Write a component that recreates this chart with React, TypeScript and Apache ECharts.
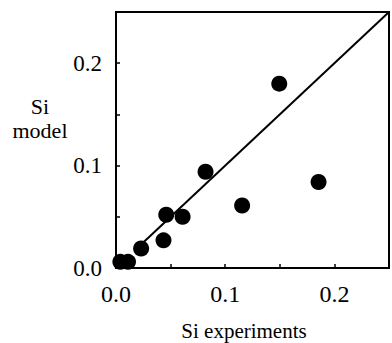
import React, { useEffect, useRef } from "react";
import * as echarts from "echarts";

const siExperiments = [0.004, 0.011, 0.023, 0.0435, 0.046, 0.061, 0.082, 0.1155, 0.1495, 0.1855];
const siModel = [0.006, 0.006, 0.019, 0.027, 0.052, 0.050, 0.094, 0.061, 0.180, 0.084];
const parityLine = [[0.022, 0.022], [0.25, 0.25]];
const xTitle = "Si experiments";
const yTitle = ["Si", "model"];

const FONT = "Liberation Serif";

export default function App() {
  const ref = useRef<HTMLDivElement>(null);
  useEffect(() => {
    if (!ref.current) return;
    const chart = echarts.init(ref.current, null, { renderer: "svg" });
    const fmt = (v: number) => {
      const t = v * 10;
      return Math.abs(t - Math.round(t)) < 1e-6 && v < 0.249 ? v.toFixed(1) : "";
    };
    const textEl = (text: string, x: number, y: number, size: number) => ({
      type: "text",
      x,
      y,
      style: {
        text,
        fontFamily: FONT,
        fontSize: size,
        fill: "#000",
        align: "center",
        verticalAlign: "middle",
      },
    });
    chart.setOption({
      animation: false,
      backgroundColor: "#fff",
      textStyle: { fontFamily: FONT },
      grid: {
        left: 116,
        right: 1,
        top: 12,
        bottom: 75,
        show: true,
        borderColor: "#000",
        borderWidth: 2,
        backgroundColor: "transparent",
      },
      xAxis: {
        type: "value",
        min: 0,
        max: 0.25,
        interval: 0.05,
        axisLine: { show: true, lineStyle: { color: "#000", width: 2 } },
        axisTick: { show: true, inside: true, length: 4, lineStyle: { color: "#000", width: 1.5 } },
        splitLine: { show: false },
        axisLabel: { formatter: fmt, color: "#000", fontFamily: FONT, fontSize: 24, margin: 14 },
      },
      yAxis: {
        type: "value",
        min: 0,
        max: 0.25,
        interval: 0.05,
        axisLine: { show: true, lineStyle: { color: "#000", width: 2 } },
        axisTick: { show: true, inside: true, length: 4, lineStyle: { color: "#000", width: 1.5 } },
        splitLine: { show: false },
        axisLabel: { formatter: fmt, color: "#000", fontFamily: FONT, fontSize: 23, margin: 14 },
      },
      graphic: [
        textEl(xTitle, 244, 331, 21),
        textEl(yTitle[0], 40, 106, 22),
        textEl(yTitle[1], 40, 130, 22),
      ],
      series: [
        {
          type: "line",
          data: parityLine,
          symbol: "none",
          lineStyle: { color: "#000", width: 2 },
          z: 1,
        },
        {
          type: "scatter",
          data: siExperiments.map((x, i) => [x, siModel[i]]),
          symbol: "circle",
          symbolSize: 16,
          itemStyle: { color: "#000", opacity: 1 },
          z: 2,
        },
      ],
    });
    return () => chart.dispose();
  }, []);
  return <div ref={ref} style={{ width: 392, height: 343, position: "absolute", left: 0, top: 0 }} />;
}
